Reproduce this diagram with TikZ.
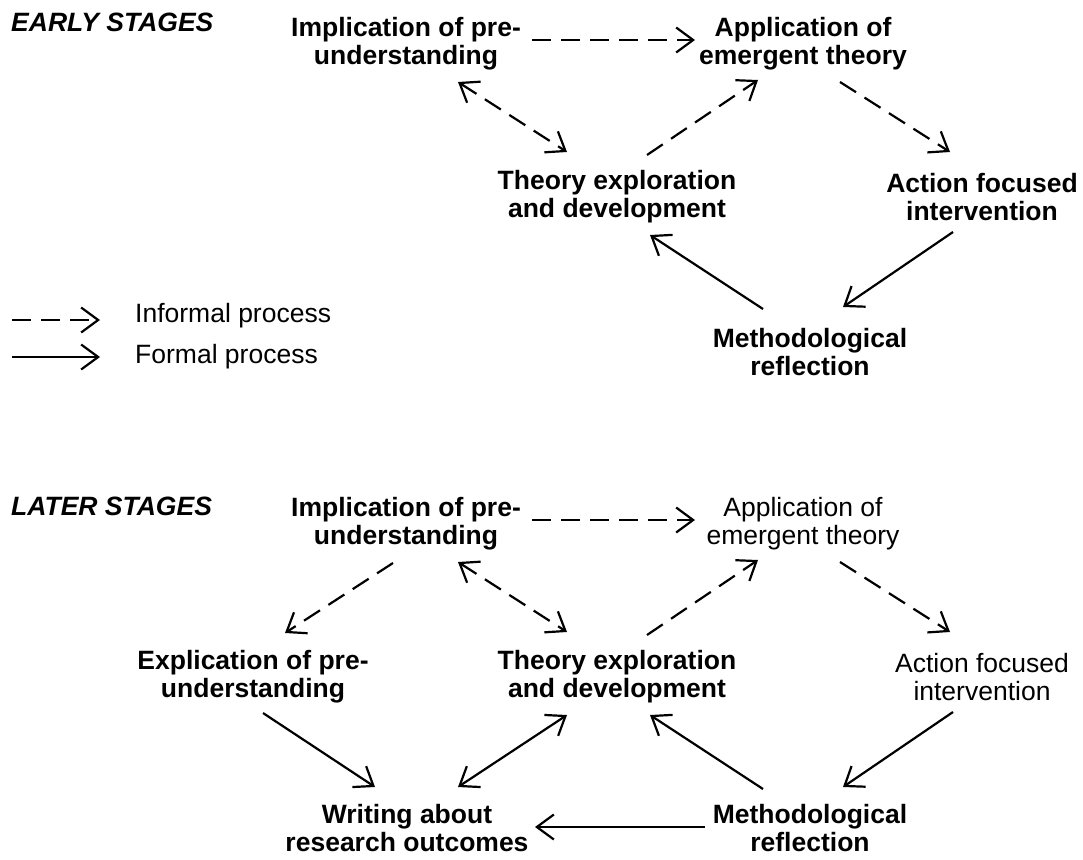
\documentclass[tikz,border=0pt]{standalone}
\usepackage{fontspec}
\setmainfont{Liberation Sans}
\usetikzlibrary{arrows.meta}

\begin{document}
\begin{tikzpicture}[
  x=1pt, y=-1pt,
  every node/.style={inner sep=0pt, font=\fontsize{26.5}{28}\selectfont},
  phase/.style={align=center, font=\fontsize{26.5}{28}\selectfont\bfseries},
  phaselight/.style={align=center},
  stage/.style={anchor=west, font=\fontsize{26.5}{28}\selectfont\bfseries\itshape},
  formal/.style={line width=2.2pt, -{Straight Barb[length=17pt,width=25pt]}},
  informal/.style={formal, dash pattern=on 19pt off 10pt},
  both/.style={{Straight Barb[length=17pt,width=25pt]}-{Straight Barb[length=17pt,width=25pt]}}
]
  \fill[white] (0,0) rectangle (1083,859);
  \useasboundingbox (0,0) rectangle (1083,859);

  % early stages
  \node[stage] (early) at (11,22) {EARLY STAGES};
  \node[phase] (impl1) at (406,44) {Implication of pre-\\understanding};
  \node[phase] (app1) at (803,44) {Application of\\emergent theory};
  \node[phase] (theory1) at (617,197) {Theory exploration\\and development};
  \node[phase] (action1) at (982,197) {Action focused\\intervention};
  \node[phase] (method1) at (810,352) {Methodological\\reflection};

  \draw[informal] ([shift={(126,-4)}]impl1.center) -- ([shift={(-108,-4)}]app1.center);
  \draw[informal,both] ([shift={(52,38)}]impl1.center) -- ([shift={(-50,-45)}]theory1.center);
  \draw[informal] ([shift={(30,-42)}]theory1.center) -- ([shift={(-45,36)}]app1.center);
  \draw[informal] ([shift={(37,38)}]app1.center) -- ([shift={(-32,-45)}]action1.center);
  \draw[formal] ([shift={(-47,-43)}]method1.center) -- ([shift={(33,38)}]theory1.center);
  \draw[formal] ([shift={(-29,35)}]action1.center) -- ([shift={(33,-45)}]method1.center);

  % legend
  \node[anchor=west] (inf) at (135,316) {Informal process};
  \node[anchor=west] (frm) at (135,357) {Formal process};
  \coordinate (infstart) at (12,320);
  \coordinate (frmstart) at (12,357);
  \draw[informal] (infstart) -- ([shift={(-35,4)}]inf.west);
  \draw[formal] (frmstart) -- ([xshift=-35]frm.west);

  % later stages
  \node[stage] (later) at (11,506) {LATER STAGES};
  \node[phase] (impl2) at (406,524) {Implication of pre-\\understanding};
  \node[phaselight] (app2) at (803,524) {Application of\\emergent theory};
  \node[phase] (expl2) at (253,677) {Explication of pre-\\understanding};
  \node[phase] (theory2) at (617,677) {Theory exploration\\and development};
  \node[phaselight] (action2) at (982,677) {Action focused\\intervention};
  \node[phase] (writing2) at (407,828) {Writing about\\research outcomes};
  \node[phase] (method2) at (810,828) {Methodological\\reflection};

  \draw[informal] ([shift={(126,-4)}]impl2.center) -- ([shift={(-108,-4)}]app2.center);
  \draw[informal] ([shift={(-13,39)}]impl2.center) -- ([shift={(32,-44)}]expl2.center);
  \draw[informal,both] ([shift={(52,38)}]impl2.center) -- ([shift={(-50,-45)}]theory2.center);
  \draw[informal] ([shift={(30,-42)}]theory2.center) -- ([shift={(-45,36)}]app2.center);
  \draw[informal] ([shift={(37,38)}]app2.center) -- ([shift={(-32,-45)}]action2.center);
  \draw[formal] ([shift={(10,36)}]expl2.center) -- ([shift={(-32,-41)}]writing2.center);
  \draw[formal,both] ([shift={(51,-41)}]writing2.center) -- ([shift={(-50,38)}]theory2.center);
  \draw[formal] ([shift={(-47,-39)}]method2.center) -- ([shift={(33,38)}]theory2.center);
  \draw[formal] ([shift={(-29,35)}]action2.center) -- ([shift={(33,-41)}]method2.center);
  \draw[formal] ([shift={(-105,-1)}]method2.center) -- ([shift={(128,-1)}]writing2.center);
\end{tikzpicture}
\end{document}
